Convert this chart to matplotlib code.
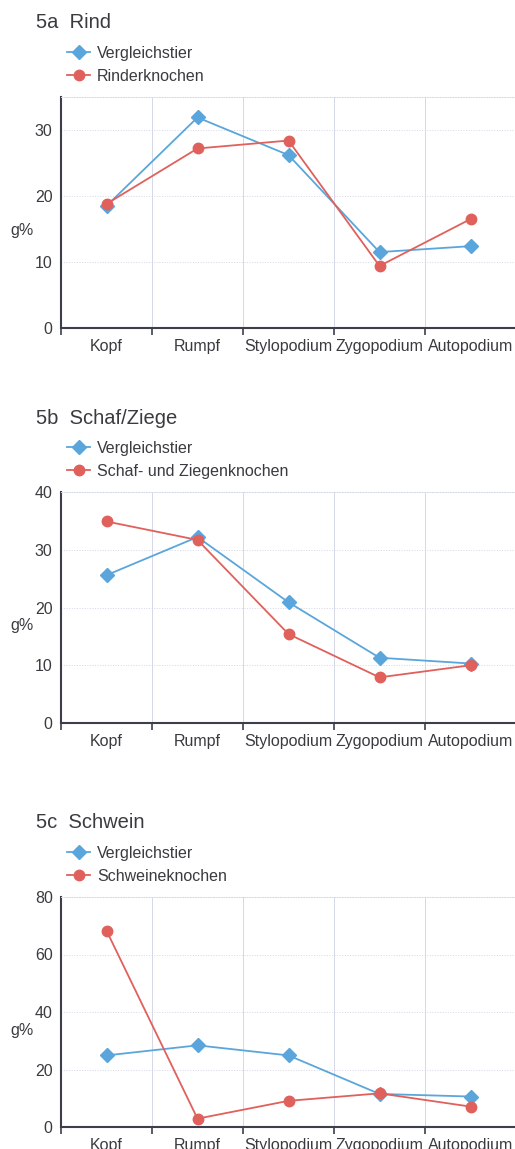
import numpy as np
import matplotlib
matplotlib.use("Agg")
import matplotlib.pyplot as plt

# --- Daten ---
kategorien = ["Kopf", "Rumpf", "Stylopodium", "Zygopodium", "Autopodium"]

rind_vergleich = [18.5, 31.9, 26.2, 11.5, 12.4]
rind_knochen = [18.8, 27.2, 28.4, 9.4, 16.5]

schaf_vergleich = [25.6, 32.2, 20.9, 11.3, 10.3]
schaf_knochen = [34.9, 31.7, 15.4, 7.9, 10.0]

schwein_vergleich = [24.9, 28.4, 24.9, 11.5, 10.6]
schwein_knochen = [68.3, 2.9, 9.1, 11.7, 7.1]

titel = ["5a  Rind", "5b  Schaf/Ziege", "5c  Schwein"]
label_vergleich = "Vergleichstier"
label_knochen = ["Rinderknochen", "Schaf- und Ziegenknochen", "Schweineknochen"]
y_max = [35, 40, 80]
y_ticks = [[0, 10, 20, 30], [0, 10, 20, 30, 40], [0, 20, 40, 60, 80]]

# --- Stil ---
BLAU = "#5aa6dc"
ROT = "#e0605c"
TEXT = "#3a3a40"
ACHSE = "#3c3e4c"
GITTER = "#d4d7e6"

plt.rcParams["font.family"] = ["Liberation Sans", "DejaVu Sans"]

fig = plt.figure(figsize=(5.15, 11.49), dpi=100)
W, H = 515, 1149

# Achsenpositionen in Pixeln: (links, oben, unten)
boxen = [(61, 97, 328), (61, 492, 723), (61, 897, 1127)]
titel_y = [22, 418, 822]

daten = [
    (rind_vergleich, rind_knochen),
    (schaf_vergleich, schaf_knochen),
    (schwein_vergleich, schwein_knochen),
]

x = np.arange(len(kategorien))

for i, (vgl, kn) in enumerate(daten):
    left, top, bottom = boxen[i]
    ax = fig.add_axes([left / W, 1 - bottom / H, 455 / W, (bottom - top) / H])

    ax.plot(x, vgl, color=BLAU, lw=1.3, marker="D", ms=7, label=label_vergleich, zorder=3)
    ax.plot(x, kn, color=ROT, lw=1.3, marker="o", ms=7.5, label=label_knochen[i], zorder=4)

    ax.set_xlim(-0.5, 4.5)
    ax.set_ylim(0, y_max[i])
    ax.set_yticks(y_ticks[i])
    ax.set_xticks(x)
    ax.set_xticklabels(kategorien)
    ax.set_xticks(np.arange(-0.5, 5, 1), minor=True)

    ax.tick_params(axis="y", length=0, pad=6, labelsize=11.5, labelcolor=TEXT)
    ax.tick_params(axis="x", which="major", length=0, pad=8, labelsize=11.5, labelcolor=TEXT)
    ax.tick_params(axis="x", which="minor", length=5, width=1.2, color=ACHSE)

    ax.grid(True, axis="y", color=GITTER, lw=0.7, ls=":")
    ax.grid(True, axis="x", which="minor", color=GITTER, lw=0.7, ls="-")
    ax.set_axisbelow(True)

    for s in ["left", "bottom"]:
        ax.spines[s].set_color(ACHSE)
        ax.spines[s].set_linewidth(1.5)
    for s in ["top", "right"]:
        ax.spines[s].set_color(GITTER)
        ax.spines[s].set_linewidth(0.7)
        ax.spines[s].set_linestyle(":")

    ax.set_ylabel("g%", rotation=0, fontsize=11.5, color=TEXT, va="center", ha="center")
    ax.yaxis.set_label_coords(-0.085, 0.42)

    ax.legend(loc="lower left", bbox_to_anchor=(0.0, 1.03), frameon=False,
              fontsize=11.5, handlelength=1.4, handletextpad=0.45,
              labelspacing=0.5, borderaxespad=0, labelcolor=TEXT)

    fig.text(36 / W, 1 - titel_y[i] / H, titel[i], fontsize=14.5, color=TEXT, va="center")

fig.savefig("out.png", dpi=100, facecolor="white")
